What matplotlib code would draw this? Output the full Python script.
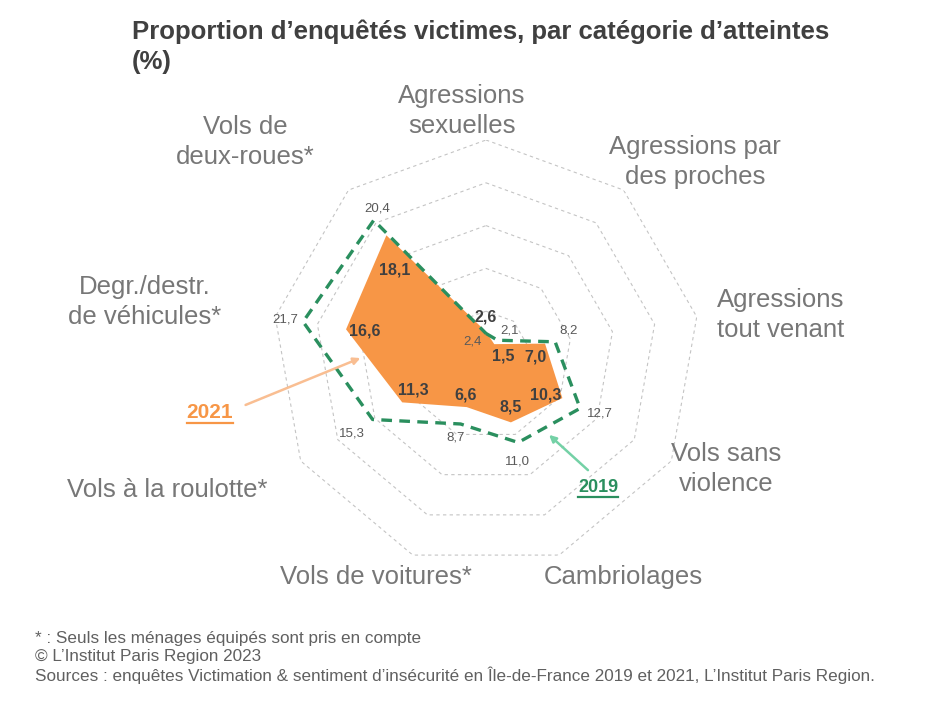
import numpy as np
import matplotlib
matplotlib.use("Agg")
import matplotlib.pyplot as plt
from matplotlib.lines import Line2D

plt.rcParams['font.family'] = ['Liberation Sans', 'DejaVu Sans']

# Data
categories = ["Agressions\nsexuelles", "Agressions par\ndes proches", "Agressions\ntout venant",
              "Vols sans\nviolence", "Cambriolages", "Vols de voitures*",
              "Vols à la roulotte*", "Degr./destr.\nde véhicules*", "Vols de\ndeux-roues*"]
values_2021 = [2.6, 1.5, 7.0, 10.3, 8.5, 6.6, 11.3, 16.6, 18.1]
values_2019 = [2.4, 2.1, 8.2, 12.7, 11.0, 8.7, 15.3, 21.7, 20.4]
rings = [5, 10, 15, 20, 25]

W, H = 929, 707
ORANGE = '#F79646'
GREEN = '#2A8F5E'
DARK = '#404040'
GREY = '#777777'

def fx(x):
    return x / W

def fy(y):
    return 1 - y / H

fig = plt.figure(figsize=(W / 100, H / 100), dpi=100)
cx, cy, R = 486, 354, 214
ax = fig.add_axes([fx(cx - R), fy(cy + R), 2 * R / W, 2 * R / H], projection='polar')
ax.set_theta_zero_location('N')
ax.set_theta_direction(-1)
ax.set_ylim(0, 25)
ax.set_axis_off()

n = len(categories)
theta = np.arange(n) * 2 * np.pi / n
tc = np.append(theta, theta[0])

# nonagon grid
for r in rings:
    ax.plot(tc, [r] * (n + 1), color='#C4C4C4', lw=0.8, ls=(0, (3, 3)), zorder=1)

ax.fill(tc, values_2021 + values_2021[:1], color=ORANGE, lw=0, zorder=2)
ax.plot(tc, values_2019 + values_2019[:1], color=GREEN, lw=2.4, ls=(0, (3.2, 2.2)), zorder=3)

# value labels (offsets in pixels)
off_2021 = [(0, 15), (9, -12), (-10, -13), (-17, 3), (0, 15), (-1, 12), (11, 12), (19, -2), (8, -35)]
off_2019 = [(-13, -8), (12, 10), (13, 11), (20, -5), (-1, -19), (-5, -14), (-21, -14), (-18, 2), (3, 12)]
for t, v, o in zip(theta, values_2021, off_2021):
    ax.annotate(f"{v:.1f}".replace('.', ','), xy=(t, v), xytext=o, textcoords='offset pixels',
                ha='center', va='center', fontsize=11.5, fontweight='bold', color=DARK, zorder=5)
for t, v, o in zip(theta, values_2019, off_2019):
    ax.annotate(f"{v:.1f}".replace('.', ','), xy=(t, v), xytext=o, textcoords='offset pixels',
                ha='center', va='center', fontsize=9.5, color='#595959', zorder=5)

# category labels (pixel centres)
cat_pos = [(462, 111), (695, 162), (781, 315), (726, 469), (623, 577),
           (376, 577), (167, 490), (145, 302), (245, 142)]
for lab, (x, y) in zip(categories, cat_pos):
    fig.text(fx(x), fy(y), lab, ha='center', va='center', fontsize=18.5, color=GREY,
             linespacing=1.3)

# series call-outs
def callout(txt, color, arrow_color, pos, start, end, size):
    t = fig.text(fx(pos[0]), fy(pos[1]), txt, ha='center', va='center', fontsize=size,
                 fontweight='bold', color=color)
    fig.canvas.draw()
    bb = t.get_window_extent()
    fig.add_artist(Line2D([bb.x0 / W, bb.x1 / W], [(bb.y0 - 1) / H, (bb.y0 - 1) / H],
                          color=color, lw=1.6))
    fig.add_artist(matplotlib.patches.FancyArrowPatch(
        (fx(start[0]), fy(start[1])), (fx(end[0]), fy(end[1])), transform=fig.transFigure,
        arrowstyle='-|>', mutation_scale=10, color=arrow_color, lw=1.8))

callout("2021", ORANGE, '#F9BE92', (210, 412), (243, 406), (363, 357), 15)
callout("2019", GREEN, '#74D1A6', (598, 487), (590, 472), (547, 433), 13)

# title and footer
fig.text(fx(132), fy(20), "Proportion d’enquêtés victimes, par catégorie d’atteintes\n(%)",
         ha='left', va='top', fontsize=18.5, fontweight='bold', color=DARK, linespacing=1.3)
fig.text(fx(35), fy(684),
         "* : Seuls les ménages équipés sont pris en compte\n"
         "© L’Institut Paris Region 2023\n"
         "Sources : enquêtes Victimation & sentiment d’insécurité en Île-de-France 2019 et 2021, L’Institut Paris Region.",
         ha='left', va='bottom', fontsize=12.3, color='#606060', linespacing=1.2)

fig.savefig("out.png", dpi=100)
